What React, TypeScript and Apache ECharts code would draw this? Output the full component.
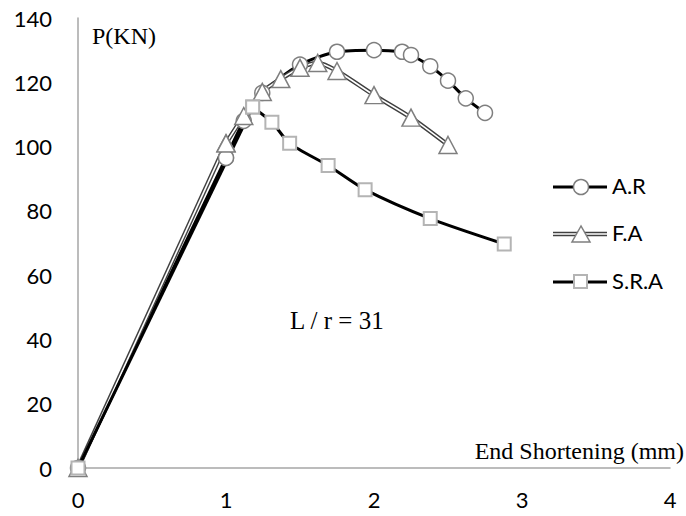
import React, { useEffect, useRef } from "react";
import * as echarts from "echarts";

// Load (P, kN) versus end shortening (mm) for three column types, L/r = 31
const arX = [0, 1.0, 1.12, 1.245, 1.5, 1.75, 2.0, 2.19, 2.25, 2.38, 2.5, 2.62, 2.75];
const arY = [0, 96.5, 108, 116.7, 125.5, 129.5, 130, 129.5, 128.5, 125, 120.5, 115, 110.5];

const faX = [0, 1.0, 1.12, 1.245, 1.37, 1.5, 1.62, 1.75, 2.0, 2.25, 2.5];
const faY = [0, 101, 109.5, 117, 121, 124.5, 126, 123.5, 116, 109, 100.5];

const sraX = [0, 1.18, 1.31, 1.43, 1.69, 1.94, 2.38, 2.88];
const sraY = [0, 112.3, 107.6, 101, 94.1, 86.6, 77.6, 69.7];

const seriesNames = ["A.R", "F.A", "S.R.A"];
const xTicks = { min: 0, max: 4, interval: 1 };
const yTicks = { min: 0, max: 140, interval: 20 };

const pairs = (xs: number[], ys: number[]) => xs.map((x, i) => [x, ys[i]]);

const tickFont = "Lato, 'Open Sans', sans-serif";
const serifFont = "'Liberation Serif', 'DejaVu Serif', serif";
const markerGray = "#7f7f7f";
const squareGray = "#b4b4b4";
const smoothing = 0.25;

// The elastic rise from the origin is straight; the post-yield branch is smoothed.
function curve(
  name: string,
  xs: number[],
  ys: number[],
  lineStyle: Record<string, unknown>,
  marker: Record<string, unknown> | null,
  silent = false
) {
  const pts = pairs(xs, ys);
  const common = {
    type: "line",
    lineStyle,
    silent,
    ...(marker ? marker : { symbol: "none" }),
  };
  return [
    { ...common, name, data: pts.slice(0, 2), smooth: false },
    { ...common, name, data: pts.slice(1), smooth: smoothing },
  ];
}

export default function App() {
  const ref = useRef<HTMLDivElement>(null);

  useEffect(() => {
    if (!ref.current) return;
    const chart = echarts.init(ref.current, undefined, { renderer: "svg" });

    const legendText = (y: number, text: string) => ({
      type: "text",
      left: 612,
      top: y - 13,
      style: { text, font: `22px ${tickFont}`, fill: "#000" },
    });

    const circleMarker = {
      symbol: "circle",
      symbolSize: 15,
      itemStyle: { color: "#fff", borderColor: markerGray, borderWidth: 1.5 },
    };
    const triangleMarker = {
      symbol: "triangle",
      symbolSize: [18, 17],
      itemStyle: { color: "#fff", borderColor: markerGray, borderWidth: 1.5 },
    };
    const squareMarker = {
      symbol: "rect",
      symbolSize: 13,
      itemStyle: { color: "#fff", borderColor: squareGray, borderWidth: 2 },
    };

    chart.setOption({
      animation: false,
      backgroundColor: "#fff",
      grid: { left: 78, right: 16, top: 18, bottom: 48 },
      xAxis: {
        type: "value",
        min: xTicks.min,
        max: xTicks.max,
        interval: xTicks.interval,
        axisLine: { show: true, lineStyle: { color: "#a6a6a6", width: 1.5 } },
        axisTick: { show: false },
        splitLine: { show: false },
        axisLabel: { color: "#000", fontSize: 22, fontFamily: tickFont, margin: 20 },
      },
      yAxis: {
        type: "value",
        min: yTicks.min,
        max: yTicks.max,
        interval: yTicks.interval,
        axisLine: { show: true, lineStyle: { color: "#a6a6a6", width: 1.5 } },
        axisTick: { show: false },
        splitLine: { show: false },
        axisLabel: { color: "#000", fontSize: 22, fontFamily: tickFont, margin: 26 },
      },
      series: [
        ...curve(seriesNames[0], arX, arY, { color: "#000", width: 3 }, circleMarker),
        // F.A is drawn as a double line: dark outline with a white core
        ...curve(seriesNames[1] + " outline", faX, faY, { color: "#404040", width: 4.5 }, null, true),
        ...curve(seriesNames[1], faX, faY, { color: "#fff", width: 1.6 }, triangleMarker),
        ...curve(seriesNames[2], sraX, sraY, { color: "#000", width: 3 }, squareMarker),
      ],
      graphic: [
        {
          type: "text",
          left: 92,
          top: 24,
          style: { text: "P(KN)", font: `24px ${serifFont}`, fill: "#000" },
        },
        {
          type: "text",
          right: 2,
          top: 439,
          style: { text: "End Shortening (mm)", font: `24px ${serifFont}`, fill: "#000" },
        },
        {
          type: "text",
          left: 290,
          top: 308,
          style: { text: "L / r = 31", font: `25px ${serifFont}`, fill: "#000" },
        },
        // Legend: A.R
        { type: "line", shape: { x1: 553, y1: 187, x2: 607, y2: 187 }, style: { stroke: "#000", lineWidth: 3 } },
        {
          type: "circle",
          shape: { cx: 581, cy: 187, r: 7.5 },
          style: { fill: "#fff", stroke: markerGray, lineWidth: 1.5 },
        },
        legendText(187, seriesNames[0]),
        // Legend: F.A (double line)
        { type: "line", shape: { x1: 553, y1: 234, x2: 607, y2: 234 }, style: { stroke: "#404040", lineWidth: 4.5 } },
        { type: "line", shape: { x1: 553, y1: 234, x2: 607, y2: 234 }, style: { stroke: "#fff", lineWidth: 1.6 } },
        {
          type: "polygon",
          shape: { points: [[581, 226], [572, 242], [590, 242]] },
          style: { fill: "#fff", stroke: markerGray, lineWidth: 1.5 },
        },
        legendText(234, seriesNames[1]),
        // Legend: S.R.A
        { type: "line", shape: { x1: 553, y1: 282, x2: 607, y2: 282 }, style: { stroke: "#000", lineWidth: 3 } },
        {
          type: "rect",
          shape: { x: 574, y: 275, width: 13, height: 13 },
          style: { fill: "#fff", stroke: squareGray, lineWidth: 2 },
        },
        legendText(282, seriesNames[2]),
      ],
    });

    return () => chart.dispose();
  }, []);

  return (
    <div
      ref={ref}
      style={{ position: "fixed", left: 0, top: 0, width: 686, height: 516, background: "#fff" }}
    />
  );
}
